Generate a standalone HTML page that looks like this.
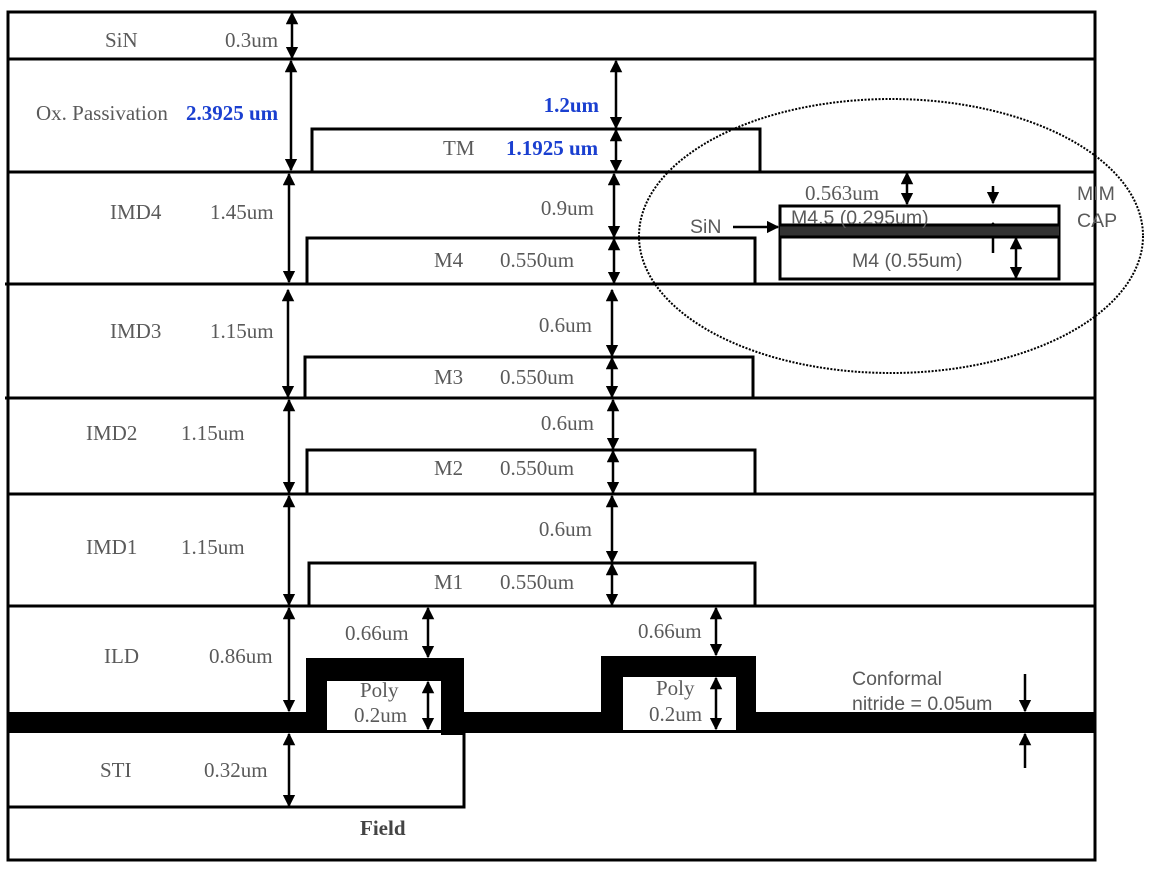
<!DOCTYPE html>
<html><head><meta charset="utf-8"><style>
html,body{margin:0;padding:0;background:#fff;}
svg{display:block;}
.t{font-family:"Liberation Serif",serif;font-size:21px;fill:#5a5a5a;}
.b{font-family:"Liberation Serif",serif;font-size:21px;fill:#1a3fd0;font-weight:bold;}
.s{font-family:"Liberation Sans",sans-serif;font-size:19.5px;fill:#5a5a5a;}
</style></head><body>
<svg width="1150" height="874" viewBox="0 0 1150 874" xmlns="http://www.w3.org/2000/svg">
<defs>
<marker id="a" viewBox="0 0 10 10" refX="9" refY="5" markerWidth="5" markerHeight="5" orient="auto-start-reverse"><path d="M0,0 L10,5 L0,10 z" fill="#000"/></marker>
</defs>
<g stroke="#000" stroke-width="3" fill="none">
<rect x="8" y="12" width="1087" height="848"/>
<line x1="8" y1="59" x2="1095" y2="59"/>
<line x1="8" y1="172" x2="1095" y2="172"/>
<line x1="5" y1="284" x2="1095" y2="284"/>
<line x1="5" y1="398" x2="1095" y2="398"/>
<line x1="8" y1="494" x2="1095" y2="494"/>
<line x1="8" y1="606" x2="1095" y2="606"/>
<polyline points="8,807 464,807 464,732"/>
<polyline points="312,172 312,129 760,129 760,172"/>
<polyline points="307,284 307,238 755,238 755,284"/>
<polyline points="305,398 305,357 753,357 753,398"/>
<polyline points="307,494 307,450 755,450 755,494"/>
<polyline points="309,606 309,563 755,563 755,606"/>
</g>
<rect x="8" y="712" width="1087" height="21" fill="#000"/>
<path d="M306,658 H464 V735 H441 V681 H327 V730 H306 Z" fill="#000"/>
<rect x="327" y="681" width="114" height="49" fill="#fff"/>
<path d="M601,656 H756 V733 H736 V677 H623 V730 H601 Z" fill="#000"/>
<rect x="623" y="677" width="113" height="53" fill="#fff"/>
<g stroke="#000" stroke-width="2.5" marker-start="url(#a)" marker-end="url(#a)">
<line x1="292" y1="13" x2="292" y2="58"/>
<line x1="291" y1="61" x2="291" y2="170"/>
<line x1="616" y1="61" x2="616" y2="128"/>
<line x1="616" y1="130" x2="616" y2="171"/>
<line x1="289" y1="174" x2="289" y2="282"/>
<line x1="614" y1="174" x2="614" y2="237"/>
<line x1="614" y1="239" x2="614" y2="283"/>
<line x1="288" y1="290" x2="288" y2="397"/>
<line x1="612" y1="290" x2="612" y2="356"/>
<line x1="612" y1="358" x2="612" y2="397"/>
<line x1="289" y1="400" x2="289" y2="493"/>
<line x1="613" y1="400" x2="613" y2="449"/>
<line x1="613" y1="451" x2="613" y2="493"/>
<line x1="289" y1="496" x2="289" y2="605"/>
<line x1="612" y1="496" x2="612" y2="562"/>
<line x1="612" y1="564" x2="612" y2="605"/>
<line x1="289" y1="608" x2="289" y2="711"/>
<line x1="289" y1="734" x2="289" y2="806"/>
<line x1="428" y1="608" x2="428" y2="657"/>
<line x1="428" y1="682" x2="428" y2="729"/>
<line x1="716" y1="608" x2="716" y2="655"/>
<line x1="716" y1="678" x2="716" y2="729"/>
<line x1="907" y1="173" x2="907" y2="204"/>
<line x1="1016" y1="238" x2="1016" y2="278"/>
</g>
<g stroke="#000" stroke-width="2.5" marker-end="url(#a)">
<line x1="1025" y1="674" x2="1025" y2="711"/>
<line x1="1025" y1="768" x2="1025" y2="734"/>
<line x1="993" y1="186" x2="993" y2="203"/>
<line x1="993" y1="253" x2="993" y2="223"/>
<line x1="733" y1="227" x2="778" y2="227"/>
</g>
<rect x="780" y="206" width="279" height="73" fill="none" stroke="#000" stroke-width="3"/>
<rect x="780" y="225" width="279" height="12" fill="#333"/>
<line x1="780" y1="225" x2="1059" y2="225" stroke="#000" stroke-width="3"/>
<line x1="780" y1="237" x2="1059" y2="237" stroke="#000" stroke-width="3"/>
<ellipse cx="891" cy="236" rx="252" ry="137" fill="none" stroke="#000" stroke-width="2" stroke-dasharray="2,1.5"/>
<text class="t" x="105" y="47">SiN</text>
<text class="t" x="225" y="47">0.3um</text>
<text class="t" x="36" y="120">Ox. Passivation</text>
<text class="b" x="186" y="120">2.3925 um</text>
<text class="b" x="599" y="112" text-anchor="end">1.2um</text>
<text class="t" x="443" y="155">TM</text>
<text class="b" x="506" y="155">1.1925 um</text>
<text class="t" x="110" y="219">IMD4</text>
<text class="t" x="210" y="219">1.45um</text>
<text class="t" x="594" y="215" text-anchor="end">0.9um</text>
<text class="t" x="434" y="267">M4</text>
<text class="t" x="500" y="267">0.550um</text>
<text class="t" x="110" y="338">IMD3</text>
<text class="t" x="210" y="338">1.15um</text>
<text class="t" x="592" y="332" text-anchor="end">0.6um</text>
<text class="t" x="434" y="384">M3</text>
<text class="t" x="500" y="384">0.550um</text>
<text class="t" x="86" y="440">IMD2</text>
<text class="t" x="181" y="440">1.15um</text>
<text class="t" x="594" y="430" text-anchor="end">0.6um</text>
<text class="t" x="434" y="475">M2</text>
<text class="t" x="500" y="475">0.550um</text>
<text class="t" x="86" y="554">IMD1</text>
<text class="t" x="181" y="554">1.15um</text>
<text class="t" x="592" y="536" text-anchor="end">0.6um</text>
<text class="t" x="434" y="589">M1</text>
<text class="t" x="500" y="589">0.550um</text>
<text class="t" x="104" y="663">ILD</text>
<text class="t" x="209" y="663">0.86um</text>
<text class="t" x="345" y="640">0.66um</text>
<text class="t" x="638" y="638">0.66um</text>
<text class="t" x="360" y="697">Poly</text>
<text class="t" x="354" y="722">0.2um</text>
<text class="t" x="656" y="695">Poly</text>
<text class="t" x="649" y="721">0.2um</text>
<text class="t" x="100" y="777">STI</text>
<text class="t" x="204" y="777">0.32um</text>
<text class="t" x="360" y="835" style="font-weight:bold;fill:#444">Field</text>
<text class="s" x="852" y="685">Conformal</text>
<text class="s" x="852" y="710">nitride = 0.05um</text>
<text class="t" x="805" y="200">0.563um</text>
<text class="s" x="791" y="224">M4.5 (0.295um)</text>
<text class="s" x="852" y="267">M4 (0.55um)</text>
<text class="s" x="690" y="233">SiN</text>
<text class="s" x="1077" y="200">MIM</text>
<text class="s" x="1077" y="227">CAP</text>
</svg>
</body></html>
